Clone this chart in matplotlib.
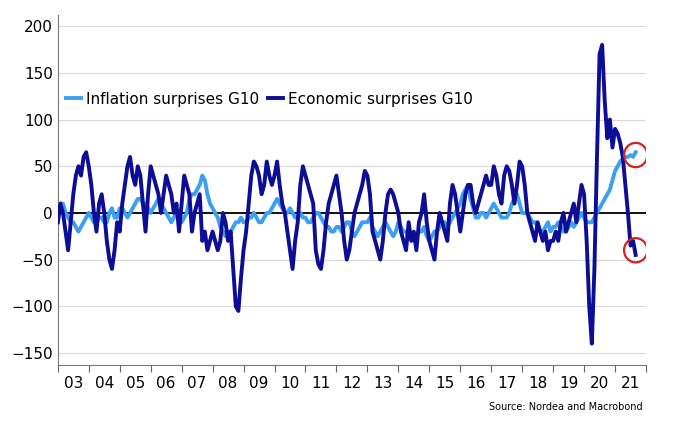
"""
Inflation vs economic surprises, G10.
"""
import matplotlib.pyplot as plt
from matplotlib.patches import Ellipse
import numpy as np

YEARS = list(range(2003, 2022))
YEAR_LABELS = [f"{y % 100:02d}" for y in YEARS]

# monthly readings, Jan 2003 .. mid 2021
economic = [
    -10, 10, 0, -20, -40, -10, 20, 40, 50, 40, 60, 65,
    50, 30, 0, -20, 10, 20, 0, -30, -50, -60, -40, -10,
    -20, 10, 30, 50, 60, 40, 30, 50, 40, 10, -20, 20,
    50, 40, 30, 20, 0, 20, 40, 30, 20, 0, 10, -20,
    10, 40, 30, 20, -20, 0, 10, 20, -30, -20, -40, -30,
    -20, -30, -40, -30, 0, -10, -30, -20, -60, -100, -105, -70,
    -40, -20, 10, 40, 55, 50, 40, 20, 30, 55, 40, 30,
    40, 55, 30, 10, 0, -20, -40, -60, -30, -10, 30, 50,
    40, 30, 20, 10, -40, -55, -60, -40, -10, 10, 20, 30,
    40, 20, 0, -30, -50, -40, -20, 0, 10, 20, 30, 45,
    40, 20, -20, -30, -40, -50, -30, 0, 20, 25, 20, 10,
    0, -20, -30, -40, -10, -30, -20, -40, -10, 0, 20, -10,
    -30, -40, -50, -20, 0, -10, -20, -30, 10, 30, 20, 0,
    -20, 0, 20, 30, 30, 10, 0, 10, 20, 30, 40, 30,
    30, 50, 40, 20, 10, 40, 50, 45, 30, 10, 30, 55,
    50, 30, 0, -10, -20, -30, -10, -20, -30, -20, -40, -30,
    -30, -20, -30, -10, 0, -20, -10, 0, 10, -10, 10, 30,
    20, -30, -100, -140, -60, 60, 170, 180, 120, 80, 100, 70,
    90, 85, 75, 60, 30, 0, -35, -30, -45,
]
inflation = [
    -10, 10, 10, 0, -5, -10, -10, -15, -20, -15, -10, -5,
    0, -5, -10, -10, -5, -5, -10, -10, 0, 5, -5, -5,
    5, 5, 0, -5, 0, 5, 10, 15, 15, 10, 10, 5,
    0, 5, 10, 15, 10, 5, 0, -5, -10, -5, 0, -5,
    -10, -5, 0, 15, 20, 20, 25, 30, 40, 35, 20, 10,
    5, 0, -5, -15, -20, -25, -20, -20, -15, -10, -10, -5,
    -10, -10, -5, -5, 0, -5, -10, -10, -5, 0, 0, 5,
    10, 15, 10, 5, 0, 0, 5, 0, -5, -5, 0, -5,
    -5, -10, -10, -5, 0, 0, -5, -10, -15, -15, -20, -20,
    -15, -15, -20, -15, -10, -10, -20, -25, -20, -15, -10, -10,
    -10, -5, -15, -20, -25, -20, -15, -10, -15, -20, -25, -20,
    -10, -15, -20, -20, -25, -25, -30, -25, -20, -20, -15, -25,
    -30, -25, -20, -20, -15, -10, -10, -15, -10, -5, 0, 5,
    10, 20, 25, 30, 15, 5, -5, -5, 0, 0, -5, 0,
    5, 10, 5, 0, -5, -5, -5, 0, 10, 15, 20, 10,
    0, 0, 0, -5, -10, -10, -15, -20, -20, -15, -10, -20,
    -15, -15, -10, -15, -20, -20, -15, -10, -15, -10, -5, 0,
    -5, -10, -10, -10, -5, 0, 5, 10, 15, 20, 25, 35,
    45, 50, 55, 58, 60, 60, 62, 60, 65,
]

DARK = "#0d0d96"
LIGHT = "#3d9ff0"

fig = plt.figure(figsize=(6.8, 4.29), dpi=100)
ax = fig.add_axes([0.085, 0.149, 0.865, 0.816])

t_eco = 2003 + np.arange(len(economic)) / 12
t_inf = 2003 + np.arange(len(inflation)) / 12
ax.plot(t_inf, inflation, color=LIGHT, lw=2.8, label="Inflation surprises G10", zorder=3)
ax.plot(t_eco, economic, color=DARK, lw=2.8, label="Economic surprises G10", zorder=4)
ax.axhline(0, color="black", lw=1.3, zorder=2)

# red circles on the latest readings
for y in (inflation[-1] - 3, economic[-1] + 5):
    ax.add_patch(Ellipse((t_eco[-1], y), 0.75, 26, fill=False,
                         edgecolor="#d42020", lw=1.6, zorder=5))

ax.set_xlim(2003, 2021.85)
ax.set_ylim(-163, 212)
ax.set_yticks(range(-150, 201, 50))
ax.yaxis.grid(True, color="#d9d9d9", lw=0.8)
ax.set_axisbelow(True)
ax.set_xticks(YEARS + [2022], minor=False)
ax.set_xticklabels([])
ax.set_xticks([y + 0.5 for y in YEARS], minor=True)
ax.set_xticklabels(YEAR_LABELS, minor=True)
ax.tick_params(axis="x", which="minor", length=0, labelsize=11, pad=8)
ax.tick_params(axis="x", which="major", length=5, color="#666666")
ax.tick_params(axis="y", length=0, labelsize=11)
for side in ("top", "right"):
    ax.spines[side].set_visible(False)
ax.spines["left"].set_color("#777777")
ax.spines["bottom"].set_color("#777777")

ax.legend(loc="upper left", bbox_to_anchor=(-0.01, 0.82), ncol=2, frameon=False,
          fontsize=11, handlelength=1.0, columnspacing=0.6, handletextpad=0.3)
fig.text(0.945, 0.045, "Source: Nordea and Macrobond", ha="right", fontsize=7)

plt.savefig("out.png", dpi=100)
